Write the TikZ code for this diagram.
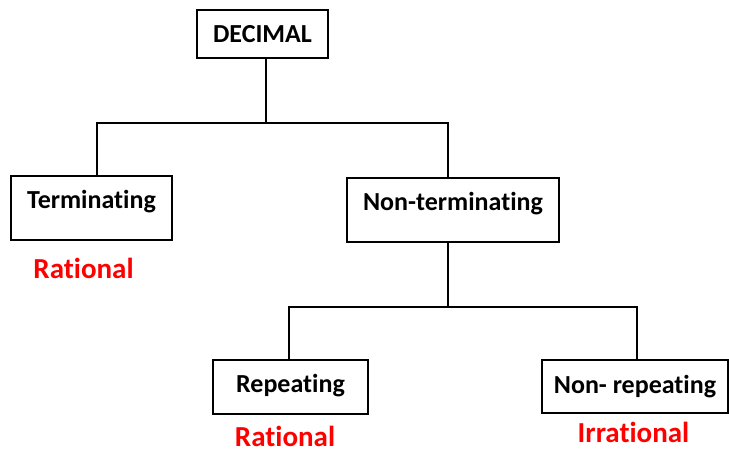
\documentclass[tikz,border=0pt]{standalone}
\usepackage{fontspec}
\setmainfont{Carlito}[Ligatures=NoCommon]
\usetikzlibrary{positioning}
\definecolor{DecRed}{HTML}{FF0000}

\begin{document}
\begin{tikzpicture}[x=1pt, y=-1pt, line width=1.6pt,
  box/.style={draw, inner xsep=0pt, inner ysep=0pt, anchor=north,
    font=\fontsize{26}{30}\selectfont\bfseries},
  kind/.style={text=DecRed, anchor=base, font=\fontsize{29}{34}\selectfont\bfseries}]
\useasboundingbox (0,0) rectangle (729,452);

% Boxes of the tree
\node[box, minimum width=131pt, text height=33pt, text depth=15pt] (dec) at (262.5,9) {DECIMAL};
\node[box, minimum width=161pt, text height=33pt, text depth=31pt] (term) at (91.5,175) {Terminating};
\node[box, minimum width=212pt, text height=33pt, text depth=31pt] (nonterm) at (453,177) {Non-terminating};
\node[box, minimum width=155pt, text height=33pt, text depth=21pt] (rep) at (290.5,359) {Repeating};
\node[box, minimum width=186pt, text height=34pt, text depth=19pt] (nonrep) at (635,359) {Non- repeating};

% Red kind labels under the leaves
\foreach \name/\x/\y/\txt in {
  rat1/83.5/278/Rational,
  rat2/285/446/Rational,
  irr/633.5/442/Irrational}
{
  \node[kind] (\name) at (\x,\y) {\txt};
}

% Branch lines
\coordinate (top) at (266,123);
\coordinate (mid) at (448,307);
\draw (top |- dec.south) -- (top);
\draw ([xshift=5.5pt]term.north) |- (top) -| ([xshift=-5pt]nonterm.north);
\draw (mid |- nonterm.south) -- (mid);
\draw ([xshift=-1.5pt]rep.north) |- (mid) -| ([xshift=2pt]nonrep.north);
\end{tikzpicture}
\end{document}
